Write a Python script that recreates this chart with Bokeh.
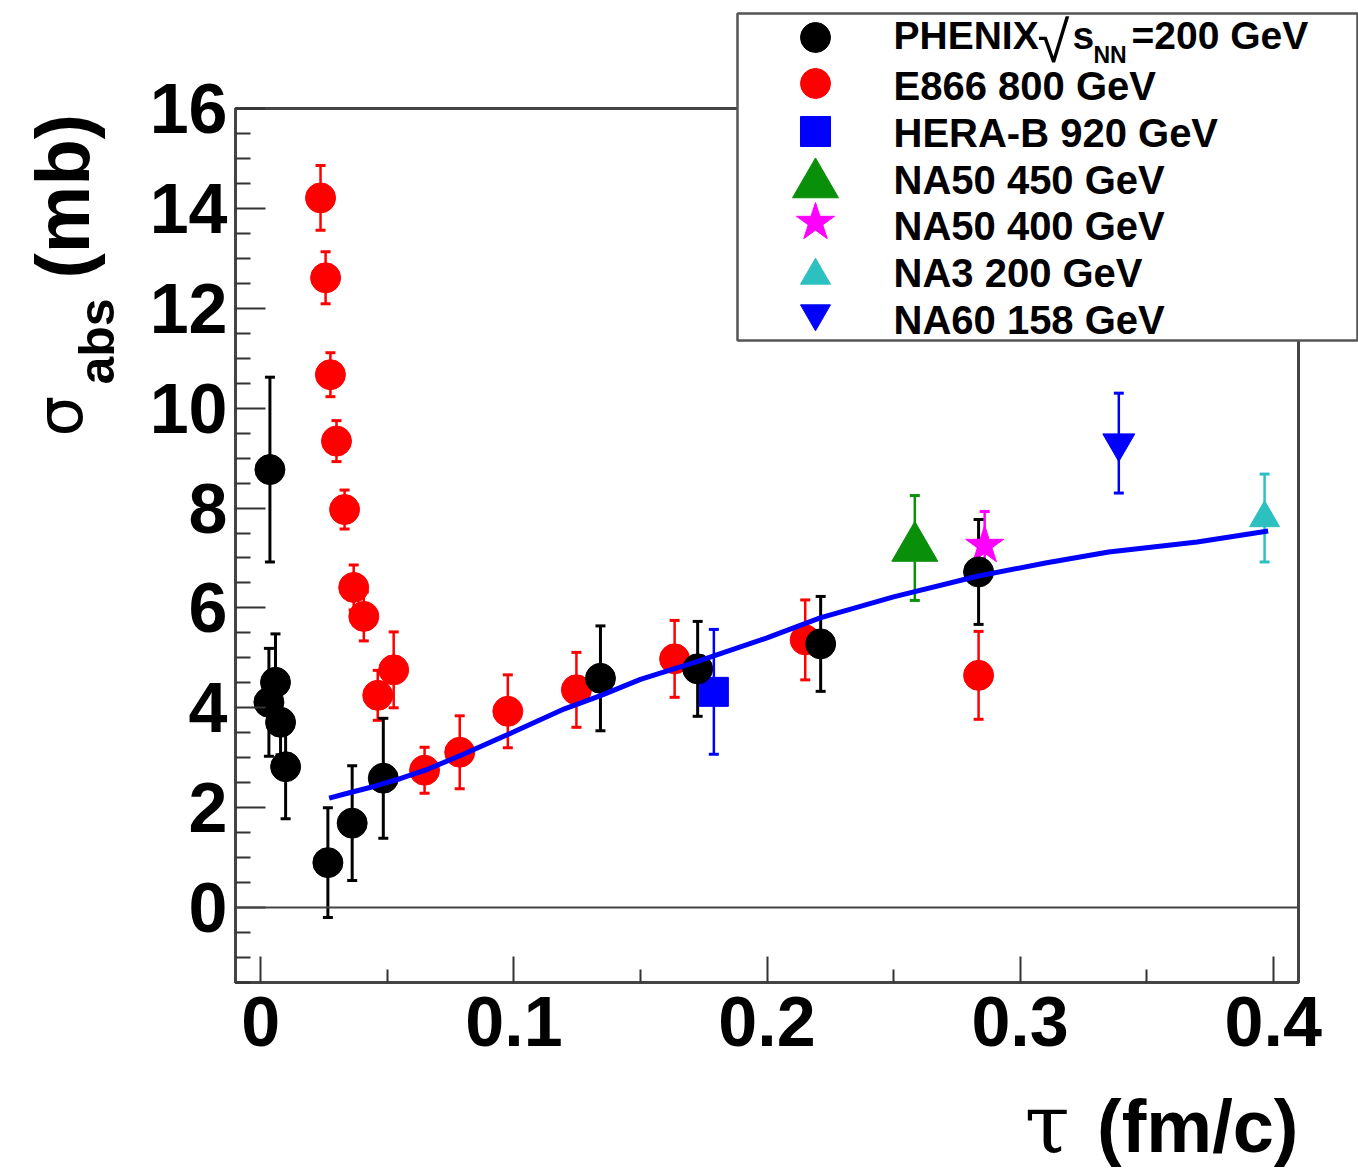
import numpy as np
from bokeh.plotting import figure
from bokeh.models import (ColumnDataSource, Whisker, TeeHead, Span,
                          FixedTicker, NumeralTickFormatter)
from bokeh.core.properties import value
from bokeh.embed import file_html
from bokeh.resources import INLINE

# ---------------- data ----------------
phenix_tau = [0.0036, 0.0032, 0.0058, 0.0078, 0.0098, 0.0265, 0.0361, 0.0484, 0.1342, 0.1726, 0.2212, 0.2836]
phenix_sig = [8.77, 4.11, 4.51, 3.71, 2.82, 0.90, 1.69, 2.59, 4.59, 4.78, 5.28, 6.72]
phenix_err = [1.85, 1.08, 0.97, 0.65, 1.04, 1.10, 1.15, 1.20, 1.05, 0.95, 0.95, 1.05]

e866_tau = [0.0236, 0.0256, 0.0275, 0.0299, 0.0331, 0.0367, 0.0407, 0.0462, 0.0525, 0.0647,
            0.0786, 0.0976, 0.1247, 0.1635, 0.2151, 0.2836]
e866_sig = [14.21, 12.61, 10.67, 9.34, 7.97, 6.41, 5.83, 4.25, 4.76, 2.75,
            3.11, 3.93, 4.36, 4.98, 5.36, 4.65]
e866_err = [0.65, 0.52, 0.44, 0.41, 0.39, 0.45, 0.49, 0.50, 0.76, 0.46,
            0.73, 0.73, 0.75, 0.77, 0.80, 0.88]

herab_tau, herab_sig, herab_err = [0.179], [4.32], [1.25]
na50_450_tau, na50_450_sig, na50_450_err = [0.2584], [7.20], [1.05]
na50_400_tau, na50_400_sig, na50_400_err = [0.2860], [7.25], [0.68]
na3_tau, na3_sig, na3_err = [0.3966], [7.80], [0.88]
na60_tau, na60_sig, na60_err = [0.3390], [9.30], [1.00]

curve_tau = [0.027, 0.035, 0.045, 0.055, 0.065, 0.08, 0.10, 0.12, 0.134, 0.15, 0.172,
             0.20, 0.221, 0.25, 0.2835, 0.31, 0.335, 0.37, 0.398]
curve_sig = [2.19, 2.30, 2.43, 2.58, 2.75, 3.07, 3.52, 3.98, 4.24, 4.57, 4.92,
             5.40, 5.80, 6.22, 6.64, 6.90, 7.12, 7.32, 7.54]

x_major = [0, 0.1, 0.2, 0.3, 0.4]
x_minor = [0.05, 0.15, 0.25, 0.35]
y_major = [0, 2, 4, 6, 8, 10, 12, 14, 16]

legend_labels = ["E866 800 GeV", "HERA-B 920 GeV", "NA50 450 GeV",
                 "NA50 400 GeV", "NA3 200 GeV", "NA60 158 GeV"]

# ---------------- layout ----------------
W, H = 1358, 1176
FL, FT, FR, FB = 235, 108, 1298, 982
XR = (-0.01, 0.41)
YR = (-1.5, 16.0)
BASE_SHIFT = 0.32   # empirical offset of the rendered baseline, in em


def dx(px):
    return XR[0] + (px - FL) / (FR - FL) * (XR[1] - XR[0])


def dy(py):
    return YR[1] - (py - FT) / (FB - FT) * (YR[1] - YR[0])


GREEN = "#0a8f0a"
CYAN = "#2cc0c0"
MAGENTA = "#ff00ff"
FONT = "Liberation Sans"

p = figure(width=W, height=H, x_range=XR, y_range=YR, output_backend="svg",
           toolbar_location=None, min_border_left=FL, min_border_right=W - FR,
           min_border_top=FT, min_border_bottom=H - FB)
p.xgrid.visible = False
p.ygrid.visible = False
p.background_fill_color = "white"
p.border_fill_color = "white"
p.outline_line_color = "#444444"
p.outline_line_width = 3
p.outline_line_alpha = 1.0

p.xaxis.ticker = FixedTicker(ticks=x_major, minor_ticks=x_minor)
p.xaxis.formatter = NumeralTickFormatter(format="0.[0]")
y_minor = [v for v in np.arange(-1.5, 16.01, 0.5) if abs(v % 2) > 1e-9]
p.yaxis.ticker = FixedTicker(ticks=y_major, minor_ticks=y_minor)

for ax, mj, mn, so in ((p.xaxis, 26, 13, 14), (p.yaxis, 30, 15, 8)):
    ax.axis_line_color = "#444444"
    ax.axis_line_width = 3
    ax.major_tick_in = mj
    ax.major_tick_out = 0
    ax.minor_tick_in = mn
    ax.minor_tick_out = 0
    ax.major_tick_line_color = "#333333"
    ax.minor_tick_line_color = "#333333"
    ax.major_tick_line_width = 2
    ax.minor_tick_line_width = 2
    ax.major_label_text_font = FONT
    ax.major_label_text_font_style = "bold"
    ax.major_label_text_color = "black"
    ax.major_label_standoff = so
p.xaxis.major_label_text_font_size = "70px"
p.yaxis.major_label_text_font_size = "70px"

p.add_layout(Span(location=0, dimension="width", line_color="#444444", line_width=2))


def errbars(xs, ys, es, color, lw=3):
    src = ColumnDataSource(dict(x=xs, lo=[a - b for a, b in zip(ys, es)],
                                hi=[a + b for a, b in zip(ys, es)]))
    w = Whisker(source=src, base="x", lower="lo", upper="hi", dimension="height",
                line_color=color, line_width=lw, level="underlay",
                upper_head=TeeHead(size=10, line_color=color, line_width=3),
                lower_head=TeeHead(size=10, line_color=color, line_width=3))
    p.add_layout(w)


errbars(e866_tau, e866_sig, e866_err, "red", 2.5)
errbars(herab_tau, herab_sig, herab_err, "blue", 2.5)
errbars(na50_450_tau, na50_450_sig, na50_450_err, GREEN, 2.5)
errbars(na50_400_tau, na50_400_sig, na50_400_err, MAGENTA, 2.5)
errbars(na3_tau, na3_sig, na3_err, CYAN, 2.5)
errbars(na60_tau, na60_sig, na60_err, "blue", 2.5)
errbars(phenix_tau, phenix_sig, phenix_err, "black", 3)

p.scatter(e866_tau, e866_sig, marker="circle", size=30, color="red")
p.scatter(herab_tau, herab_sig, marker="square", size=29, color="blue")
p.scatter(na50_450_tau, na50_450_sig, marker="triangle", size=46, color=GREEN)
p.scatter(na50_400_tau, na50_400_sig, marker="star", size=40, color=MAGENTA)
p.scatter(na3_tau, na3_sig, marker="triangle", size=30, color=CYAN)
p.scatter(na60_tau, na60_sig, marker="inverted_triangle", size=32, color="blue")
p.scatter(phenix_tau, phenix_sig, marker="circle", size=30, color="black")
p.line(curve_tau, curve_sig, line_color="blue", line_width=5)

# ---------------- legend (drawn on the overlay level, outside the frame) ----------------
p.quad(left=[dx(737)], right=[dx(1357)], top=[dy(13)], bottom=[dy(340)],
       fill_color="white", fill_alpha=1.0, line_color="#555555", line_width=2.5,
       level="overlay")

leg_rows_py = [37, 83, 131, 184, 222, 275, 313]
leg_src = ColumnDataSource(dict(
    x=[dx(815)] * 8,
    y=[dy(v) for v in leg_rows_py] + [dy(leg_rows_py[0])],
    marker=["circle", "circle", "square", "triangle", "star", "triangle", "inverted_triangle", "circle"],
    size=[30, 30, 30, 46, 40, 30, 30, 200],
    color=["black", "red", "blue", GREEN, MAGENTA, CYAN, "blue", "white"],
    alpha=[1, 1, 1, 1, 1, 1, 1, 0],
))
p.scatter(x="x", y="y", marker="marker", size="size", fill_color="color", line_color="color",
          fill_alpha="alpha", line_alpha="alpha", source=leg_src, level="overlay")


def txt(text, px, py, size, style="bold", font=FONT, align="left", angle=0.0):
    # px, py: wanted baseline anchor in page pixels
    if angle == 0.0:
        py = py - BASE_SHIFT * size
    else:
        px = px - BASE_SHIFT * size
    p.text(x=[dx(px)], y=[dy(py)], text=[text], text_font=value(font),
           text_font_size=value(f"{size}px"), text_font_style=style, text_color="black",
           text_align=align, text_baseline="alphabetic", angle=angle, level="overlay")


txt("PHENIX", 893, 47, 39)
txt("\u221a", 1037, 60, 58, style="normal")
txt("s", 1072, 47, 39)
txt("NN", 1093, 62, 23)
txt("=200 GeV", 1131, 47, 39)
for i, t in enumerate(legend_labels):
    txt(t, 893, [98, 145, 192, 238, 285, 332][i], 40)

# ---------------- axis titles ----------------
txt("(fm/c)", 1298, 1150, 74, align="right")
txt("\u03c4", 1024, 1150, 82, style="normal", font="DejaVu Serif")

txt("\u03c3", 80, 436, 64, style="normal", font="DejaVu Sans", angle=np.pi / 2)
txt("abs", 112, 384, 50, angle=np.pi / 2)
txt("(mb)", 86, 278, 76, angle=np.pi / 2)

open("out.html", "w").write(file_html(p, INLINE))
